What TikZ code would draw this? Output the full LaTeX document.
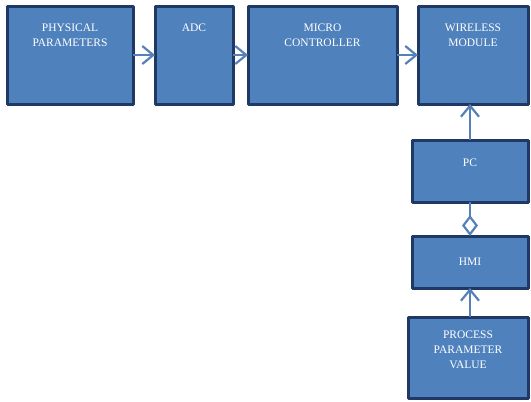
\documentclass[tikz,border=0pt]{standalone}
\usepackage{fontspec}
\setmainfont{Liberation Serif}
\usetikzlibrary{positioning}
\usetikzlibrary{arrows.meta}

\definecolor{boxfill}{HTML}{4F81BD}
\definecolor{boxline}{HTML}{1F3864}
\definecolor{arrowcol}{HTML}{5580B8}

\begin{document}
\begin{tikzpicture}[x=1pt,y=1pt,
            box/.style = {draw=boxline,fill=boxfill,line width=3pt,
                line join=round,inner sep=0pt,outer sep=0pt},
            txt/.style = {text=white,align=center,inner sep=0pt,
                font=\fontsize{11.5}{15}\selectfont},
            conn/.style = {draw=arrowcol,line width=2.2pt,
                -{Straight Barb[length=11pt,width=18pt]}}]
            \useasboundingbox (0,0) rectangle (531,-402);
            % top row
            \node[box,minimum width=126pt,minimum height=98pt,
                anchor=north west] (phys) at (7,-6) {};
            \node[box,minimum width=78pt,minimum height=98pt,
                right=22pt of phys] (adc) {};
            \node[box,minimum width=149pt,minimum height=98pt,
                right=15pt of adc] (micro) {};
            \node[box,minimum width=110pt,minimum height=98pt,
                right=21pt of micro] (wireless) {};
            % right column
            \node[box,minimum width=116pt,minimum height=62pt,
                below=36pt of wireless,xshift=-3pt] (pc) {};
            \node[box,minimum width=116pt,minimum height=52pt,
                below=34pt of pc] (hmi) {};
            \node[box,minimum width=120pt,minimum height=81pt,
                below=29pt of hmi,xshift=-2pt] (proc) {};
            % texts
            \node[txt,below=18pt of phys.north] (physlab) {PHYSICAL\\PARAMETERS};
            \node[txt,below=18pt of adc.north] (adclab) {ADC};
            \node[txt,below=18pt of micro.north] (microlab) {MICRO\\CONTROLLER};
            \node[txt,below=18pt of wireless.north] (wirelesslab) {WIRELESS\\MODULE};
            \node[txt,below=19pt of pc.north] (pclab) {PC};
            \node[txt,below=22pt of hmi.north] (hmilab) {HMI};
            \node[txt,below=14pt of proc.north] (proclab) {PROCESS\\PARAMETER\\VALUE};
            % connectors
            \draw[conn] (phys) -- (adc);
            \draw[conn] (adc) -- (micro);
            \draw[conn] (micro) -- (wireless);
            \draw[conn] (pc.north) -- (pc.north |- wireless.south);
            \draw[conn,-{Diamond[open,length=21pt,width=16pt]}]
                (pc.south) -- (hmi.north);
            \draw[conn] (proc.north -| hmi.south) -- (hmi.south);
\end{tikzpicture}
\end{document}
